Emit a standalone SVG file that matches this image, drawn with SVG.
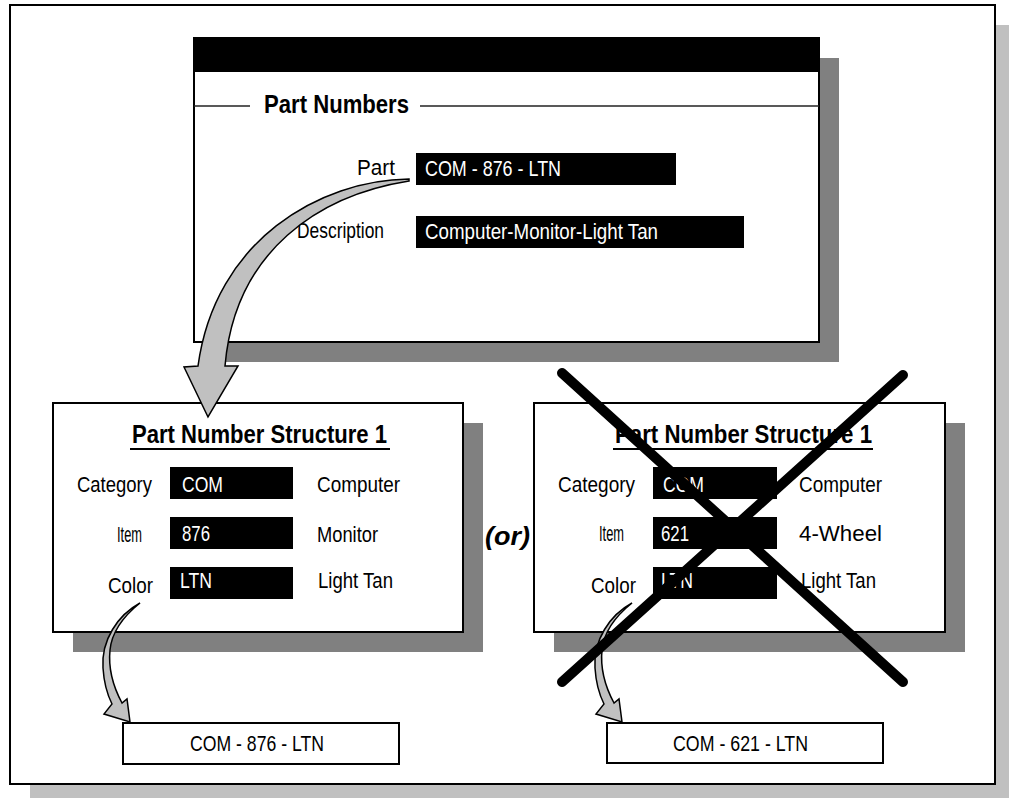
<svg xmlns="http://www.w3.org/2000/svg" width="1009" height="798" viewBox="0 0 1009 798">
<style>
.t{font-family:"Liberation Sans",Arial,sans-serif;font-size:22px;fill:#000}
.w{fill:#fff}
.b{font-weight:bold;font-size:26px}
.box{fill:#fff;stroke:#000;stroke-width:2}
.sh{fill:#808080}
.fld{fill:#000}
.arr{fill:#c0c0c0;stroke:#000;stroke-width:1.5;stroke-linejoin:miter}
.x{stroke:#000;stroke-width:10;stroke-linecap:round}
</style>
<rect x="0" y="0" width="1009" height="798" fill="#fff"/>
<g id="frame">
<rect x="30" y="25" width="985" height="779" fill="#c0c0c0"/>
<rect x="10" y="5" width="985" height="779" fill="#fff" stroke="#000" stroke-width="2"/>
</g>
<g id="part-numbers-form">
<rect class="sh" x="214" y="58" width="625" height="304"/>
<rect class="box" x="194" y="38" width="625" height="304"/>
<rect x="194" y="38" width="625" height="34" fill="#000"/>
<line x1="194" y1="106" x2="250" y2="106" stroke="#222" stroke-width="1.5"/>
<line x1="420" y1="106" x2="819" y2="106" stroke="#222" stroke-width="1.5"/>
<text class="t b" x="264" y="113" textLength="145" lengthAdjust="spacingAndGlyphs">Part Numbers</text>
<text class="t" x="357" y="175" textLength="38" lengthAdjust="spacingAndGlyphs">Part</text>
<rect class="fld" x="416" y="153" width="260" height="32"/>
<text class="t w" x="425" y="176" textLength="136" lengthAdjust="spacingAndGlyphs">COM - 876 - LTN</text>
<text class="t" x="297" y="238" textLength="87" lengthAdjust="spacingAndGlyphs">Description</text>
<rect class="fld" x="416" y="216" width="328" height="32"/>
<text class="t w" x="425" y="239" textLength="233" lengthAdjust="spacingAndGlyphs">Computer-Monitor-Light Tan</text>
</g>
<g id="structure-left">
<rect class="sh" x="73" y="423" width="410" height="229"/>
<rect class="box" x="53" y="403" width="410" height="229"/>
<text class="t b" x="132" y="443" textLength="255" lengthAdjust="spacingAndGlyphs">Part Number Structure 1</text>
<line x1="130" y1="449" x2="390" y2="449" stroke="#000" stroke-width="2"/>
<text class="t" x="77" y="492" textLength="75" lengthAdjust="spacingAndGlyphs">Category</text>
<rect class="fld" x="170" y="467" width="123" height="32"/>
<text class="t w" x="182" y="492" textLength="41" lengthAdjust="spacingAndGlyphs">COM</text>
<text class="t" x="317" y="492" textLength="83" lengthAdjust="spacingAndGlyphs">Computer</text>
<text class="t" x="117" y="542" textLength="25" lengthAdjust="spacingAndGlyphs">Item</text>
<rect class="fld" x="170" y="517" width="123" height="32"/>
<text class="t w" x="182" y="541" textLength="28" lengthAdjust="spacingAndGlyphs">876</text>
<text class="t" x="317" y="542" textLength="61" lengthAdjust="spacingAndGlyphs">Monitor</text>
<text class="t" x="108" y="593" textLength="45" lengthAdjust="spacingAndGlyphs">Color</text>
<rect class="fld" x="170" y="567" width="123" height="32"/>
<text class="t w" x="180" y="588" textLength="32" lengthAdjust="spacingAndGlyphs">LTN</text>
<text class="t" x="318" y="588" textLength="75" lengthAdjust="spacingAndGlyphs">Light Tan</text>
</g>
<g id="or-label">
<text class="t" x="485" y="545" style="font-weight:bold;font-style:italic;font-size:25px" textLength="45" lengthAdjust="spacingAndGlyphs">(or)</text>
</g>
<g id="structure-right">
<rect class="sh" x="554" y="423" width="411" height="229"/>
<rect class="box" x="534" y="403" width="411" height="229"/>
<text class="t b" x="615" y="443" textLength="257" lengthAdjust="spacingAndGlyphs">Part Number Structure 1</text>
<line x1="613" y1="449" x2="873" y2="449" stroke="#000" stroke-width="2"/>
<text class="t" x="558" y="492" textLength="77" lengthAdjust="spacingAndGlyphs">Category</text>
<rect class="fld" x="653" y="467" width="124" height="32"/>
<text class="t w" x="663" y="492" textLength="41" lengthAdjust="spacingAndGlyphs">COM</text>
<text class="t" x="799" y="492" textLength="83" lengthAdjust="spacingAndGlyphs">Computer</text>
<text class="t" x="599" y="541" textLength="25" lengthAdjust="spacingAndGlyphs">Item</text>
<rect class="fld" x="653" y="517" width="124" height="32"/>
<text class="t w" x="661" y="541" textLength="28" lengthAdjust="spacingAndGlyphs">621</text>
<text class="t" x="799" y="541" textLength="83" lengthAdjust="spacingAndGlyphs">4-Wheel</text>
<text class="t" x="591" y="593" textLength="45" lengthAdjust="spacingAndGlyphs">Color</text>
<rect class="fld" x="653" y="567" width="124" height="32"/>
<text class="t w" x="661" y="588" textLength="32" lengthAdjust="spacingAndGlyphs">LTN</text>
<text class="t" x="801" y="588" textLength="75" lengthAdjust="spacingAndGlyphs">Light Tan</text>
</g>
<g id="result-left">
<rect class="box" x="123" y="723" width="276" height="41" stroke-width="1.5"/>
<text class="t" x="190" y="751" textLength="134" lengthAdjust="spacingAndGlyphs">COM - 876 - LTN</text>
</g>
<g id="result-right">
<rect class="box" x="607" y="723" width="276" height="40" stroke-width="1.5"/>
<text class="t" x="673" y="751" textLength="135" lengthAdjust="spacingAndGlyphs">COM - 621 - LTN</text>
</g>
<g id="connectors">
<path class="arr" d="M409,179 C320,180 215,240 198,366 L184,367 L208,417 L238,366 L225,366 C235,250 320,195 409,181 Z"/>
<path class="arr" d="M140,603 C118,615 101,640 103,668 C104,684 108,696 112,704 L104,714 L130,722 L127,699 L122,703 C115,690 108,670 110,650 C112,630 125,615 140,603 Z"/>
<path class="arr" transform="translate(492,0)" d="M140,603 C118,615 101,640 103,668 C104,684 108,696 112,704 L104,714 L130,722 L127,699 L122,703 C115,690 108,670 110,650 C112,630 125,615 140,603 Z"/>
</g>
<g id="cross-out">
<line class="x" x1="562" y1="373" x2="903" y2="682"/>
<line class="x" x1="903" y1="375" x2="562" y2="682"/>
</g>
</svg>
